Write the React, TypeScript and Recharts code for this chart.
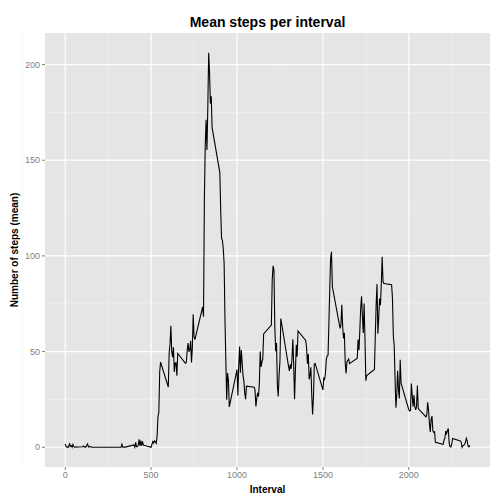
import React from 'react';
import { LineChart, Line, XAxis, YAxis, CartesianGrid } from 'recharts';

const intervals: number[] = [];
for (let h = 0; h < 24; h++) for (let m = 0; m < 60; m += 5) intervals.push(h * 100 + m);

const steps: number[] = [
  1.7, 0.3, 0.1, 0.2, 0.1, 2.1, 0.5, 0.9, 0.0, 1.5, 0.3, 0.1,
  0.3, 0.7, 0.2, 0.3, 0.0, 1.1, 1.8, 0.2, 0.2, 0.4, 0.3, 0.0,
  0.0, 0.0, 0.0, 0.0, 0.0, 0.0, 0.0, 0.0, 0.0, 0.0, 0.0, 0.0,
  0.0, 0.0, 0.0, 0.0, 0.0, 0.0, 1.6, 0.0, 0.0, 0.2, 0.0, 0.2,
  1.2, 0.0, 2.6, 0.3, 0.3, 1.1, 4.1, 0.7, 3.5, 0.8, 3.1, 1.1,
  0.0, 1.6, 3.0, 2.2, 3.3, 3.0, 2.1, 6.1, 16.0, 18.3, 39.5, 44.5,
  31.5, 49.3, 53.8, 63.5, 50.0, 47.1, 52.2, 39.3, 44.0, 44.2, 37.4, 49.0,
  43.8, 44.4, 50.5, 54.5, 49.9, 51.0, 55.7, 44.3, 52.3, 69.5, 57.8, 56.2,
  73.4, 68.2, 129.4, 157.5, 171.2, 155.4, 177.3, 206.2, 195.9, 179.6, 183.4, 167.0,
  143.5, 124.0, 109.1, 108.1, 103.7, 96.0, 66.2, 45.2, 24.8, 38.8, 35.0, 21.1,
  40.6, 27.0, 42.4, 52.7, 38.9, 50.8, 44.3, 37.4, 34.7, 28.3, 25.1, 31.9,
  31.4, 29.7, 21.3, 25.5, 28.4, 26.5, 33.4, 50.0, 42.0, 44.6, 46.0, 59.2,
  63.9, 87.7, 94.8, 92.8, 63.4, 50.2, 54.5, 32.4, 26.5, 37.7, 45.1, 67.3,
  42.3, 39.9, 43.3, 41.0, 46.2, 56.4, 42.8, 25.1, 40.0, 53.5, 47.3, 60.8,
  55.8, 52.0, 43.6, 48.7, 35.5, 37.5, 41.8, 27.5, 17.1, 26.1, 43.6, 43.8,
  30.0, 36.1, 35.5, 38.8, 46.0, 47.8, 48.1, 65.3, 82.9, 98.7, 102.1, 84.0,
  62.1, 64.1, 74.5, 63.2, 56.9, 59.8, 43.9, 38.6, 44.7, 45.5, 46.2, 43.7,
  46.6, 56.3, 50.7, 61.2, 72.7, 78.9, 68.9, 59.7, 75.1, 56.5, 34.8, 37.5,
  40.7, 58.0, 74.7, 85.3, 59.3, 67.8, 77.7, 74.2, 85.3, 99.5, 86.6, 85.6,
  84.9, 77.8, 58.0, 53.4, 36.3, 20.7, 27.4, 40.0, 30.2, 25.5, 45.7, 33.5,
  19.6, 19.0, 19.3, 33.3, 26.8, 21.2, 27.3, 21.3, 19.5, 21.3, 32.3, 20.2,
  15.9, 17.2, 23.5, 19.2, 12.5, 8.0, 14.7, 16.3, 8.7, 7.8, 8.1, 2.6,
  1.5, 3.7, 4.8, 8.5, 7.1, 8.7, 9.8, 2.2, 0.3, 0.1, 1.6, 4.6,
  3.3, 2.8, 0.0, 0.8, 1.0, 1.6, 2.6, 4.7, 3.3, 0.6, 0.2, 1.1,
];

const xTicks = [0, 500, 1000, 1500, 2000];
const xMinor = [-250, 250, 750, 1250, 1750, 2250];
const yTicks = [0, 50, 100, 150, 200];
const yMinor = [25, 75, 125, 175];

const data = intervals.map((iv, i) => ({ interval: iv, steps: steps[i] }));

const font = 'Liberation Sans, Arial, sans-serif';
const tickStyle = { fontSize: 9, fill: '#7F7F7F', fontFamily: font };

export default function App() {
  return (
    <div style={{ position: 'absolute', left: 0, top: 0, width: 504, height: 504, background: '#fff', fontFamily: font }}>
      <div style={{ position: 'absolute', top: 14, left: 45, width: 445, textAlign: 'center', fontSize: 14, fontWeight: 'bold', color: '#000' }}>
        Mean steps per interval
      </div>
      <LineChart width={504} height={504} data={data} margin={{ top: 33, right: 14, left: 12, bottom: 0 }}>
        <CartesianGrid fill="#E5E5E5" stroke="#F2F2F2" strokeWidth={0.6} horizontalValues={yMinor} verticalValues={xMinor} />
        <CartesianGrid stroke="#FFFFFF" strokeWidth={1.2} horizontalValues={yTicks} verticalValues={xTicks} />
        <XAxis dataKey="interval" type="number" domain={[-117.75, 2472.75]} ticks={xTicks} axisLine={false}
          tickLine={{ stroke: '#7F7F7F' }} tickSize={3} tick={tickStyle} height={37}
          label={{ value: 'Interval', position: 'insideBottom', offset: 11, style: { fontSize: 10, fontWeight: 'bold', fill: '#000', fontFamily: font } }} />
        <YAxis type="number" domain={[-10.31, 216.48]} ticks={yTicks} axisLine={false}
          tickLine={{ stroke: '#7F7F7F' }} tickSize={3} tick={tickStyle} width={33}
          label={{ value: 'Number of steps (mean)', angle: -90, position: 'insideLeft', offset: 2, style: { fontSize: 10, fontWeight: 'bold', fill: '#000', textAnchor: 'middle', fontFamily: font } }} />
        <Line type="linear" dataKey="steps" stroke="#000" strokeWidth={1.1} dot={false} isAnimationActive={false} />
      </LineChart>
    </div>
  );
}
